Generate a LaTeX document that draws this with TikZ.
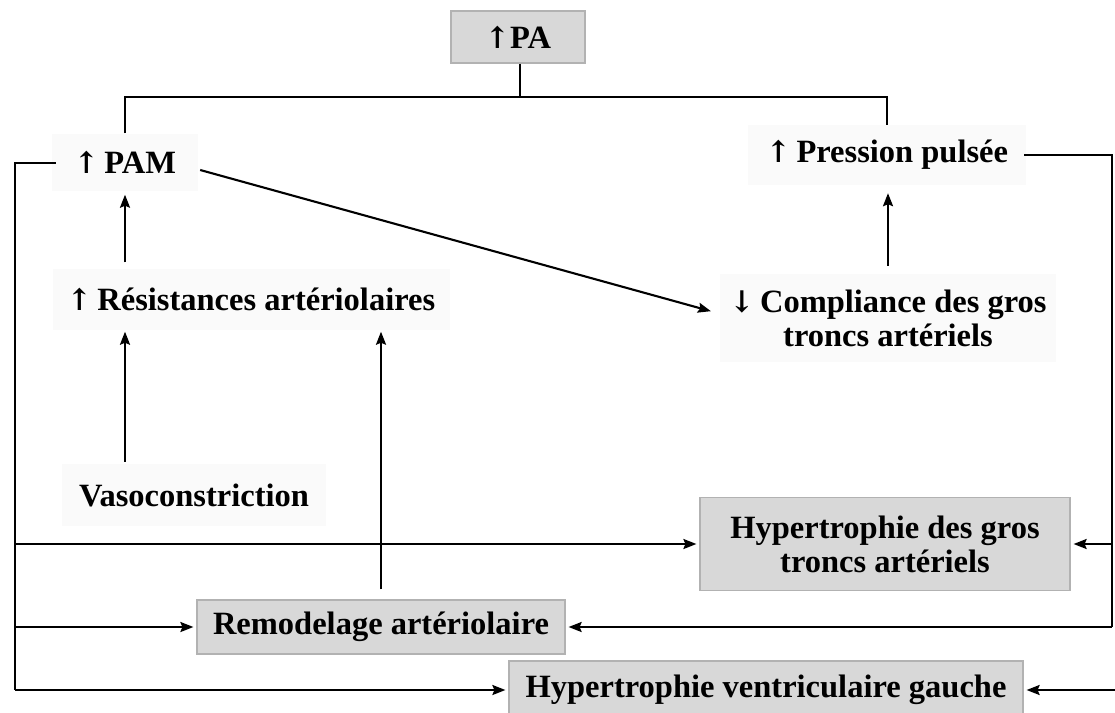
\documentclass[tikz,border=0pt]{standalone}
\usepackage{fontspec}
\setmainfont{Liberation Serif}
\newfontfamily\arrowglyphs{DejaVu Serif}
\newcommand{\upar}{{\arrowglyphs\fontsize{30}{34}\selectfont\bfseries ↑}}
\newcommand{\downar}{{\arrowglyphs\fontsize{30}{34}\selectfont\bfseries ↓}}
\usetikzlibrary{arrows.meta}
\definecolor{boxgray}{RGB}{216,216,216}
\definecolor{boxedge}{RGB}{178,178,178}
\definecolor{softgray}{RGB}{250,250,250}
\begin{document}
\begin{tikzpicture}[x=1pt,y=-1pt,
  every node/.style={font=\fontsize{32.5}{34}\selectfont\bfseries, inner sep=0pt, align=center},
  graybox/.style={fill=boxgray, draw=boxedge, line width=1.2pt},
  softbox/.style={fill=softgray},
  link/.style={line width=2.1pt, draw=black},
  arr/.style={link, -{Stealth[length=13pt,width=10pt,inset=2pt]}, shorten >=3pt}]
\useasboundingbox[fill=white] (0,0) rectangle (1115,712);

% boxes and labels
\node[graybox, minimum width=134, minimum height=52] (pa) at (518,37) {\upar PA};
\node[softbox, minimum width=146, minimum height=57] (pam) at (125,162) {\upar\,PAM};
\node[softbox, minimum width=397, minimum height=61] (res) at (251,299) {\upar\,Résistances artériolaires};
\node[softbox, minimum width=264, minimum height=62] (vaso) at (194,495) {Vasoconstriction};
\node[softbox, minimum width=278, minimum height=60] (pp) at (887,155) {\upar\,Pression pulsée};
\node[softbox, minimum width=336, minimum height=88] (comp) at (888,318) {\downar\,Compliance des gros\\troncs artériels};
\node[graybox, minimum width=370, minimum height=93] (hgt) at (885,544) {Hypertrophie des gros\\troncs artériels};
\node[graybox, minimum width=368, minimum height=54] (remo) at (381,627) {Remodelage artériolaire};
\node[graybox, minimum width=514, minimum height=58] (hvg) at (766,690) {Hypertrophie ventriculaire gauche};

% split below the top box
\coordinate (split) at (520,97);
\draw[link] (pa.south -| split) -- (split);
\draw[link] (pam.north) |- (split) -| (pp.north);

% vertical causal arrows
\draw[arr, shorten <=6pt, shorten >=4pt] (res.north -| pam.south) -- (pam.south);
\draw[arr, shorten <=2pt, shorten >=2pt] (vaso.north -| pam.south) -- (res.south -| pam.south);
\draw[arr, shorten <=10pt, shorten >=2pt] (remo.north) -- (res.south -| remo.north);
\draw[arr, shorten <=8pt, shorten >=8pt] (comp.north) -- (pp.south -| comp.north);

% PAM towards compliance
\draw[arr] ([shift={(2,8)}]pam.east) -- ([shift={(-6,-6)}]comp.west);

% left feedback loop
\coordinate (lbot) at (15,690);
\draw[link] ([shift={(4,1)}]pam.west) -| (lbot);
\draw[arr] (lbot |- hgt.west) -- (hgt.west);
\draw[arr] (lbot |- remo.west) -- (remo.west);
\draw[arr] (lbot) -- (hvg.west);

% right feedback loop
\coordinate (rtop) at (1112,155);
\draw[link] ([xshift=-2pt]pp.east) -- (rtop) -- (rtop |- remo.east);
\draw[arr] (rtop |- hgt.east) -- (hgt.east);
\draw[arr] (rtop |- remo.east) -- (remo.east);
\coordinate (redge) at (1115,690);
\draw[arr] (redge) -- (hvg.east);
\end{tikzpicture}
\end{document}
